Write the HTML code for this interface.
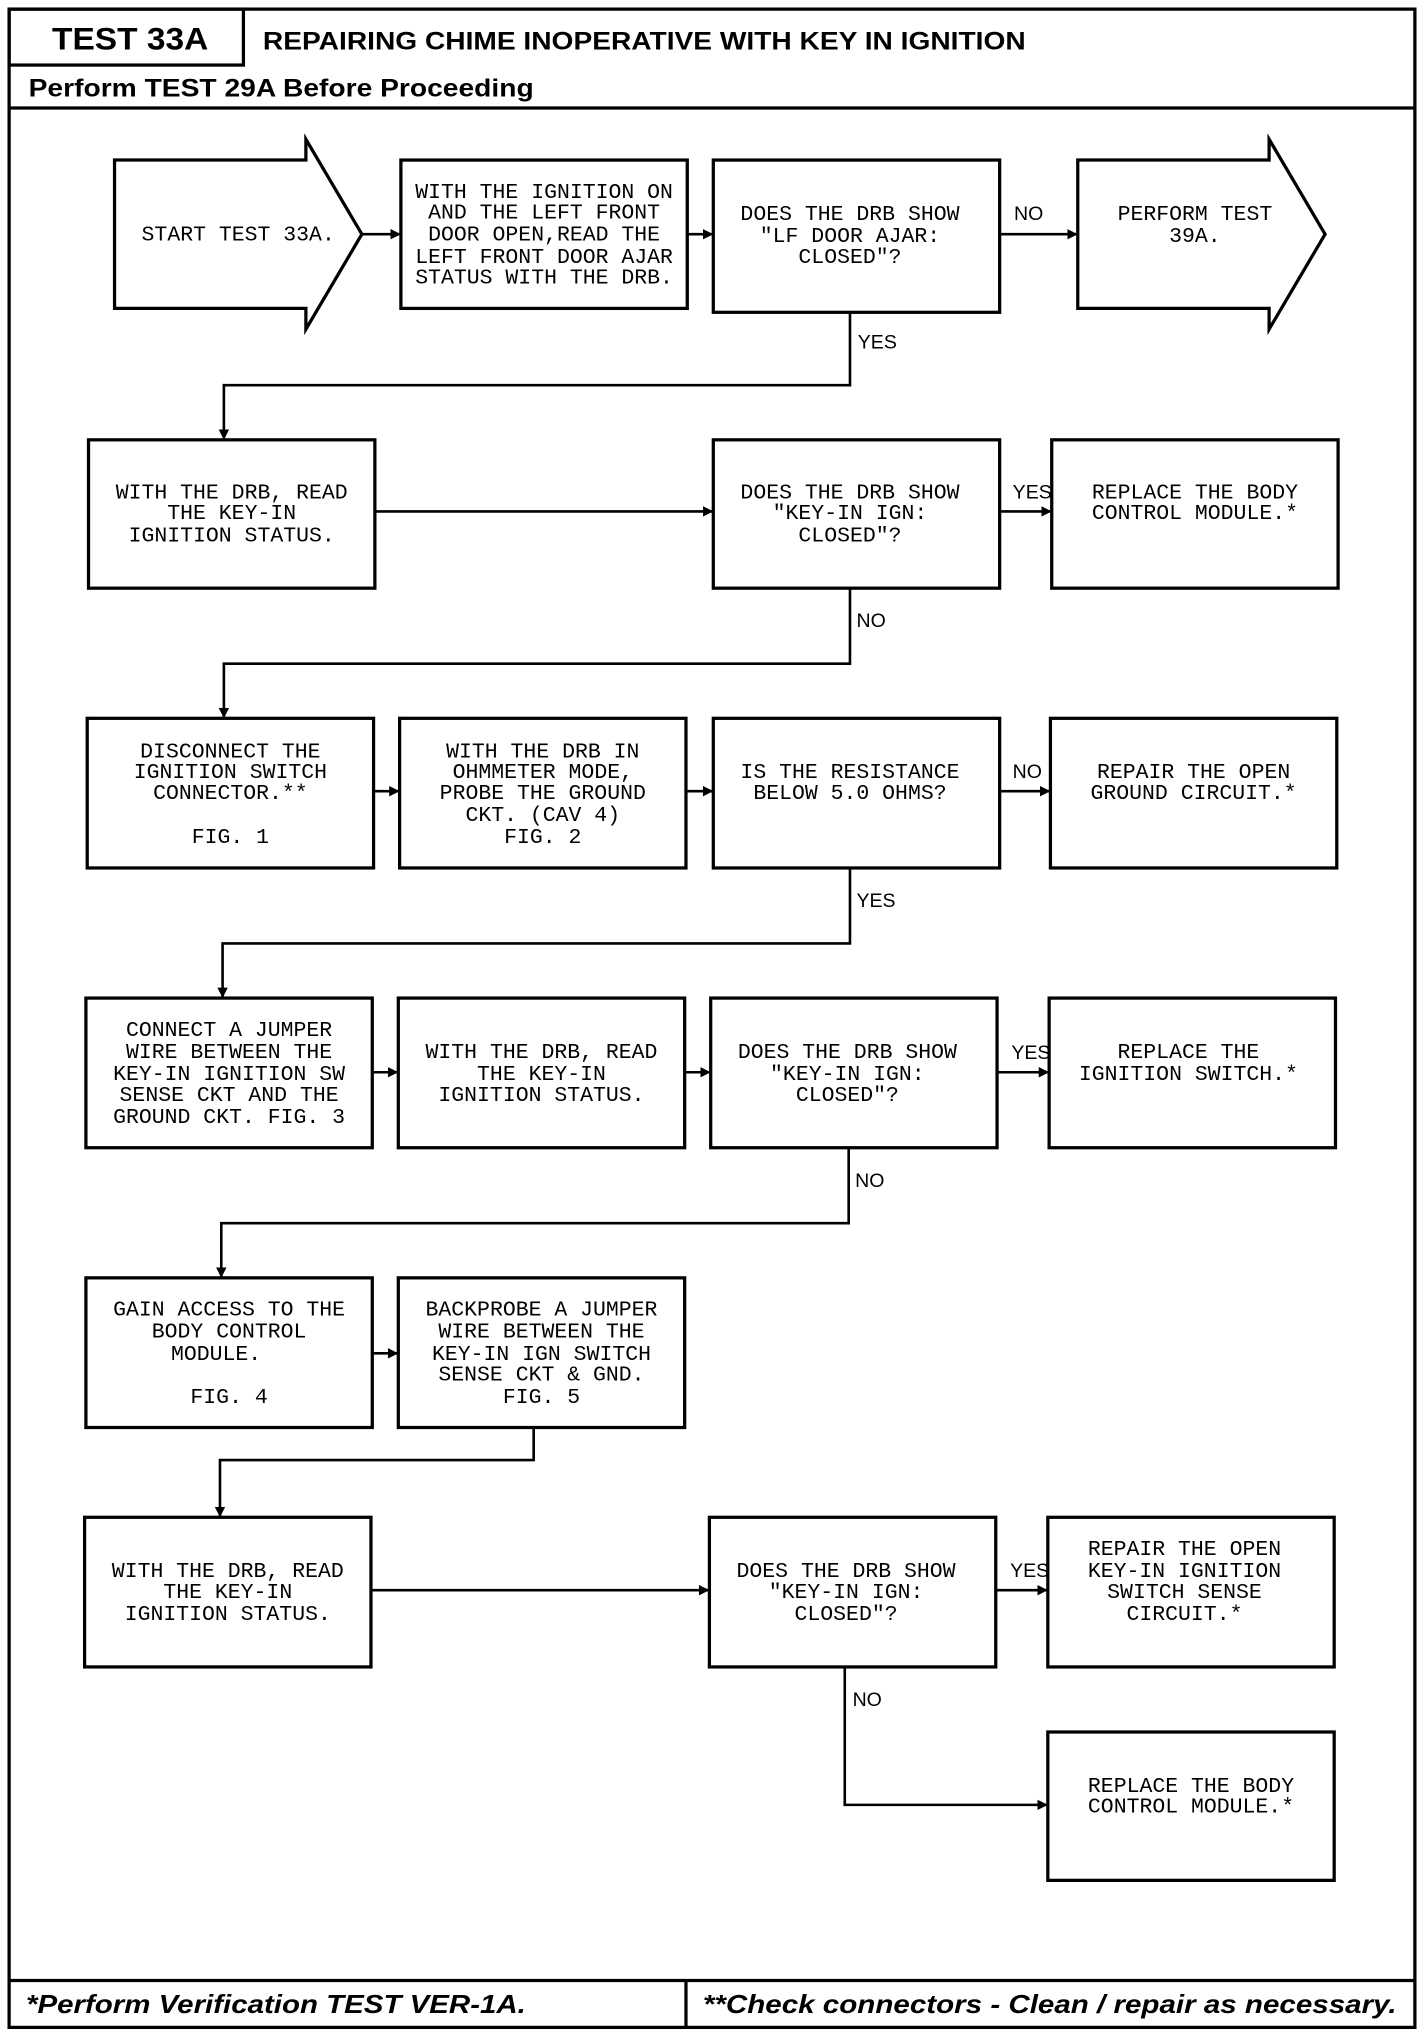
<!DOCTYPE html>
<html><head><meta charset="utf-8"><style>
html,body{margin:0;padding:0;background:#fff;}
svg{display:block;}
.t{font-family:"Liberation Mono",monospace;font-size:16.5px;fill:#000;text-anchor:middle;}
.l{font-family:"Liberation Sans",sans-serif;font-size:15px;fill:#000;}
</style></head><body>
<svg width="1424" height="2030" viewBox="0 0 1094 1560" preserveAspectRatio="none" xmlns="http://www.w3.org/2000/svg">
<defs><marker id="a" markerWidth="8" markerHeight="8" refX="7" refY="4" orient="auto" markerUnits="userSpaceOnUse"><path d="M0,0 L8,4 L0,8 z" fill="#000"/></marker></defs>
<g fill="none" stroke="#000" stroke-width="2.5">
<rect x="7" y="7" width="1080" height="1551"/>
<rect x="7" y="7" width="180" height="43"/>
<line x1="7" y1="83" x2="1087" y2="83"/>
<line x1="7" y1="1522" x2="1087" y2="1522"/>
<line x1="527" y1="1522" x2="527" y2="1558"/>
</g>
<g font-family="Liberation Sans,sans-serif" font-weight="bold" fill="#000">
<text x="40" y="38" font-size="24" textLength="120" lengthAdjust="spacingAndGlyphs">TEST 33A</text>
<text x="202" y="38" font-size="19" textLength="586" lengthAdjust="spacingAndGlyphs">REPAIRING CHIME INOPERATIVE WITH KEY IN IGNITION</text>
<text x="22" y="74" font-size="19" textLength="388" lengthAdjust="spacingAndGlyphs">Perform TEST 29A Before Proceeding</text>
<text x="20" y="1547" font-size="20" font-style="italic" textLength="384" lengthAdjust="spacingAndGlyphs">*Perform Verification TEST VER-1A.</text>
<text x="540" y="1547" font-size="20" font-style="italic" textLength="533" lengthAdjust="spacingAndGlyphs">**Check connectors - Clean / repair as necessary.</text>
</g>
<g fill="none" stroke="#000" stroke-width="2.5">
<path d="M88,123 H235 V107 L278,180 L235,253 V237 H88 Z"/>
<path d="M828,123 H975 V107 L1018,180 L975,253 V237 H828 Z"/>
<rect x="308" y="123" width="220" height="114"/>
<rect x="548" y="123" width="220" height="117"/>
<rect x="68" y="338" width="220" height="114"/>
<rect x="548" y="338" width="220" height="114"/>
<rect x="808" y="338" width="220" height="114"/>
<rect x="67" y="552" width="220" height="115"/>
<rect x="307" y="552" width="220" height="115"/>
<rect x="548" y="552" width="220" height="115"/>
<rect x="807" y="552" width="220" height="115"/>
<rect x="66" y="767" width="220" height="115"/>
<rect x="306" y="767" width="220" height="115"/>
<rect x="546" y="767" width="220" height="115"/>
<rect x="806" y="767" width="220" height="115"/>
<rect x="66" y="982" width="220" height="115"/>
<rect x="306" y="982" width="220" height="115"/>
<rect x="65" y="1166" width="220" height="115"/>
<rect x="545" y="1166" width="220" height="115"/>
<rect x="805" y="1166" width="220" height="115"/>
<rect x="805" y="1331" width="220" height="114"/>
</g>
<g fill="none" stroke="#000" stroke-width="2" marker-end="url(#a)">
<line x1="278" y1="180" x2="307" y2="180"/>
<line x1="528" y1="180" x2="547" y2="180"/>
<line x1="768" y1="180" x2="827" y2="180"/>
<polyline points="653,240 653,296 172,296 172,337"/>
<line x1="288" y1="393" x2="547" y2="393"/>
<line x1="768" y1="393" x2="807" y2="393"/>
<polyline points="653,452 653,510 172,510 172,551"/>
<line x1="287" y1="608" x2="306" y2="608"/>
<line x1="527" y1="608" x2="547" y2="608"/>
<line x1="768" y1="608" x2="806" y2="608"/>
<polyline points="653,667 653,725 171,725 171,766"/>
<line x1="286" y1="824" x2="305" y2="824"/>
<line x1="526" y1="824" x2="545" y2="824"/>
<line x1="766" y1="824" x2="805" y2="824"/>
<polyline points="652,882 652,940 170,940 170,981"/>
<line x1="286" y1="1040" x2="305" y2="1040"/>
<polyline points="410,1097 410,1122 169,1122 169,1165"/>
<line x1="285" y1="1222" x2="544" y2="1222"/>
<line x1="765" y1="1222" x2="804" y2="1222"/>
<polyline points="649,1281 649,1387 804,1387"/>
</g>
<g class="l">
<text x="779" y="169">NO</text>
<text x="659" y="268">YES</text>
<text x="778" y="383">YES</text>
<text x="658" y="482">NO</text>
<text x="778" y="598">NO</text>
<text x="658" y="697">YES</text>
<text x="777" y="814">YES</text>
<text x="657" y="912">NO</text>
<text x="776" y="1212">YES</text>
<text x="655" y="1311">NO</text>
</g>
<g class="t">
<text x="183" y="185">START TEST 33A.</text>
<text x="418" y="152">WITH THE IGNITION ON</text>
<text x="418" y="168">AND THE LEFT FRONT</text>
<text x="418" y="185">DOOR OPEN,READ THE</text>
<text x="418" y="202">LEFT FRONT DOOR AJAR</text>
<text x="418" y="218">STATUS WITH THE DRB.</text>
<text x="653" y="169">DOES THE DRB SHOW</text>
<text x="653" y="186">"LF DOOR AJAR:</text>
<text x="653" y="202">CLOSED"?</text>
<text x="918" y="169">PERFORM TEST</text>
<text x="918" y="186">39A.</text>

<text x="178" y="383">WITH THE DRB, READ</text>
<text x="178" y="399">THE KEY-IN</text>
<text x="178" y="416">IGNITION STATUS.</text>
<text x="653" y="383">DOES THE DRB SHOW</text>
<text x="653" y="399">"KEY-IN IGN:</text>
<text x="653" y="416">CLOSED"?</text>
<text x="918" y="383">REPLACE THE BODY</text>
<text x="918" y="399">CONTROL MODULE.*</text>

<text x="177" y="582">DISCONNECT THE</text>
<text x="177" y="598">IGNITION SWITCH</text>
<text x="177" y="614">CONNECTOR.**</text>
<text x="177" y="648">FIG. 1</text>
<text x="417" y="582">WITH THE DRB IN</text>
<text x="417" y="598">OHMMETER MODE,</text>
<text x="417" y="614">PROBE THE GROUND</text>
<text x="417" y="631">CKT. (CAV 4)</text>
<text x="417" y="648">FIG. 2</text>
<text x="653" y="598">IS THE RESISTANCE</text>
<text x="653" y="614">BELOW 5.0 OHMS?</text>
<text x="917" y="598">REPAIR THE OPEN</text>
<text x="917" y="614">GROUND CIRCUIT.*</text>

<text x="176" y="796">CONNECT A JUMPER</text>
<text x="176" y="813">WIRE BETWEEN THE</text>
<text x="176" y="830">KEY-IN IGNITION SW</text>
<text x="176" y="846">SENSE CKT AND THE</text>
<text x="176" y="863">GROUND CKT. FIG. 3</text>
<text x="416" y="813">WITH THE DRB, READ</text>
<text x="416" y="830">THE KEY-IN</text>
<text x="416" y="846">IGNITION STATUS.</text>
<text x="651" y="813">DOES THE DRB SHOW</text>
<text x="651" y="830">"KEY-IN IGN:</text>
<text x="651" y="846">CLOSED"?</text>
<text x="913" y="813">REPLACE THE</text>
<text x="913" y="830">IGNITION SWITCH.*</text>

<text x="176" y="1011">GAIN ACCESS TO THE</text>
<text x="176" y="1028">BODY CONTROL</text>
<text x="166" y="1045">MODULE.</text>
<text x="176" y="1078">FIG. 4</text>
<text x="416" y="1011">BACKPROBE A JUMPER</text>
<text x="416" y="1028">WIRE BETWEEN THE</text>
<text x="416" y="1045">KEY-IN IGN SWITCH</text>
<text x="416" y="1061">SENSE CKT &amp; GND.</text>
<text x="416" y="1078">FIG. 5</text>

<text x="175" y="1212">WITH THE DRB, READ</text>
<text x="175" y="1228">THE KEY-IN</text>
<text x="175" y="1245">IGNITION STATUS.</text>
<text x="650" y="1212">DOES THE DRB SHOW</text>
<text x="650" y="1228">"KEY-IN IGN:</text>
<text x="650" y="1245">CLOSED"?</text>
<text x="910" y="1195">REPAIR THE OPEN</text>
<text x="910" y="1212">KEY-IN IGNITION</text>
<text x="910" y="1228">SWITCH SENSE</text>
<text x="910" y="1245">CIRCUIT.*</text>
<text x="915" y="1377">REPLACE THE BODY</text>
<text x="915" y="1393">CONTROL MODULE.*</text>
</g>
</svg>
</body></html>
